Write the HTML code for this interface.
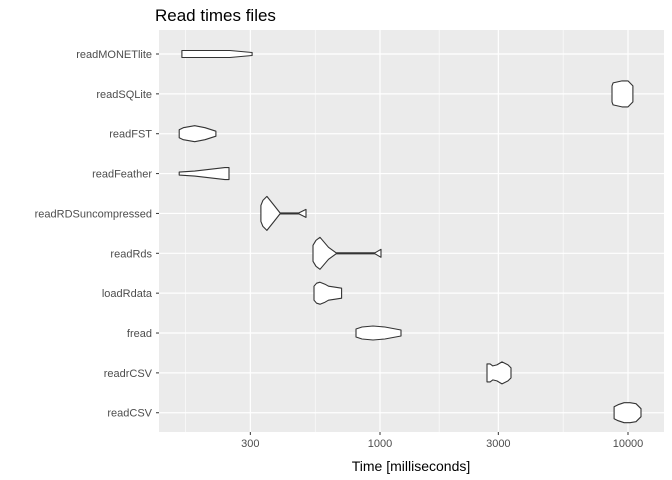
<!DOCTYPE html>
<html><head><meta charset="utf-8"><style>
body{margin:0;background:#fff;font-family:"Liberation Sans",Arial,sans-serif}
svg{display:block}
</style></head><body>
<svg id="c" width="672" height="480">
<text x="155" y="21" font-size="17" fill="#000">Read times files</text>
<text x="411" y="471" font-size="14" text-anchor="middle" fill="#000">Time [milliseconds]</text>
</svg>
<script>
const categories=["readMONETlite","readSQLite","readFST","readFeather","readRDSuncompressed","readRds","loadRdata","fread","readrCSV","readCSV"];
const xTicks=[300,1000,3000,10000];
const xTickLabels=["300","1000","3000","10000"];
const xMinor=[164.3,548,1732,5477];
// violin profiles: [milliseconds, half-width density (px)]
const vMONET=[[159,3.5],[171,3.5],[248,3.5],[305,1.5]];
const vSQLite=[[8616,8],[8710,11],[9460,13],[10000,13],[10470,8]];
const vFST=[[155,4],[161,6],[179,8],[197,6],[218,2.5]];
const vFeather=[[155,1.5],[179,2.5],[237,6],[246,6]];
const vRDSu=[[331,8],[337,13],[350,17],[374,8],[395,0.5],[471,0.5],[503,4]];
const vRds=[[537,8],[552,13],[573,16],[620,6],[665,0.5],[955,0.5],[1009,4]];
const vLoad=[[542,7],[555,10],[573,11],[600,9],[620,7],[660,6],[700,5]];
const vFread=[[800,4],[846,6],[937,7],[1047,6],[1215,3]];
const vReadr=[[2700,9],[2780,9],[2850,7],[2960,8],[3105,11],[3281,8],[3375,5]];
const vCSV=[[8790,6],[9120,8],[9640,10],[10190,10],[10770,9],[11280,4]];
const violins=[vMONET,vSQLite,vFST,vFeather,vRDSu,vRds,vLoad,vFread,vReadr,vCSV];

const ns="http://www.w3.org/2000/svg";
const svg=document.getElementById('c');
const P={l:159,r:664,t:30,b:432};
const X=v=>380+(Math.log10(v)-3)*248;
const Y=i=>54+i*39.86;
function mk(t,a,parent){const e=document.createElementNS(ns,t);for(const k in a)e.setAttribute(k,a[k]);(parent||svg).appendChild(e);return e;}
const panel=mk('rect',{x:P.l,y:P.t,width:P.r-P.l,height:P.b-P.t,fill:'#ebebeb'});


xMinor.forEach(v=>{const l=mk('line',{x1:X(v),x2:X(v),y1:P.t,y2:P.b,stroke:'#fff','stroke-width':0.6});

});
xTicks.forEach((v,i)=>{const l=mk('line',{x1:X(v),x2:X(v),y1:P.t,y2:P.b,stroke:'#fff','stroke-width':1.2});


const tk=mk('line',{x1:X(v),x2:X(v),y1:P.b,y2:P.b+3,stroke:'#333','stroke-width':1});


const t=mk('text',{x:X(v),y:P.b+15,'font-size':11,'text-anchor':'middle',fill:'#4d4d4d'});t.textContent=xTickLabels[i];

});
categories.forEach((c,i)=>{const y=Y(i);
const l=mk('line',{x1:P.l,x2:P.r,y1:y,y2:y,stroke:'#fff','stroke-width':1.2});


const tk=mk('line',{x1:P.l-3,x2:P.l,y1:y,y2:y,stroke:'#333','stroke-width':1});


const t=mk('text',{x:P.l-7,y:y+4,'font-size':11,'text-anchor':'end',fill:'#4d4d4d'});t.textContent=c;

});
violins.forEach((pts,i)=>{const y=Y(i);
const top=pts.map(p=>[X(p[0]),y-p[1]]);const bot=pts.slice().reverse().map(p=>[X(p[0]),y+p[1]]);
const d='M'+top.concat(bot).map(p=>p[0].toFixed(1)+','+p[1].toFixed(1)).join('L')+'Z';
const e=mk('path',{d:d,fill:'#fff',stroke:'#333','stroke-width':1.1,'stroke-linejoin':'round'});

});
</script>
</body></html>
